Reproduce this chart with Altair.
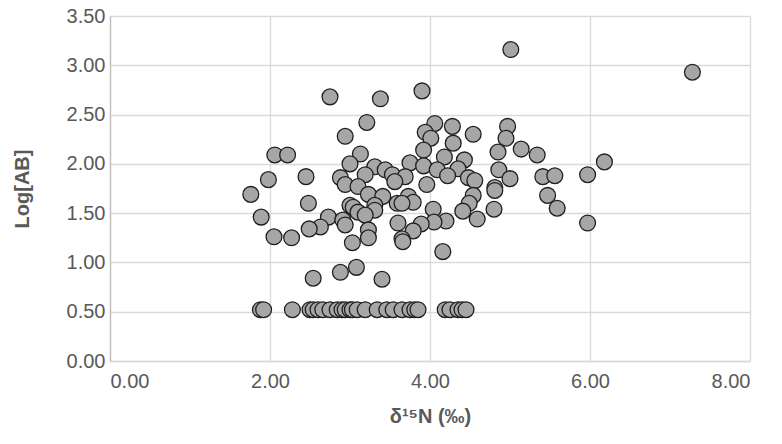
import altair as alt
import pandas as pd

x_vals = [
    5.01, 7.28, 3.90, 2.75, 3.38, 4.06, 3.21, 4.28, 4.97, 3.94,
    4.01, 4.54, 4.95, 2.94, 4.29, 3.92, 4.85, 5.14, 5.34, 2.06,
    2.22, 3.13, 4.18, 4.43, 6.18, 3.00, 3.75, 3.92, 3.31, 3.44,
    4.09, 4.35, 4.86, 1.98, 2.45, 2.88, 3.19, 3.53, 3.69, 4.22,
    4.48, 4.56, 5.00, 5.41, 5.56, 5.97, 2.94, 3.10, 3.56, 3.96,
    4.81, 4.81, 1.76, 3.23, 3.41, 3.73, 4.54, 5.47, 2.48, 3.00,
    3.31, 3.59, 3.79, 3.65, 4.49, 3.04, 5.59, 4.04, 4.41, 4.80,
    3.31, 3.10, 3.19, 2.73, 2.91, 1.89, 4.59, 4.20, 4.05, 3.89,
    3.60, 5.97, 2.94, 2.63, 2.49, 3.23, 3.79, 2.05, 2.27, 3.23,
    3.65, 3.66, 3.03, 4.16, 2.54, 2.88, 3.08, 3.40,
    1.88, 1.92, 2.28, 2.50, 2.54, 2.60, 2.66, 2.75, 2.84, 2.90,
    2.94, 3.00, 3.03, 3.09, 3.19, 3.34, 3.46, 3.54, 3.65, 3.75,
    3.81, 3.85, 4.19, 4.25, 4.35, 4.40, 4.45,
]
y_vals = [
    3.16, 2.93, 2.74, 2.68, 2.66, 2.41, 2.42, 2.38, 2.38, 2.32,
    2.26, 2.30, 2.26, 2.28, 2.21, 2.14, 2.12, 2.15, 2.09, 2.09,
    2.09, 2.10, 2.07, 2.04, 2.02, 2.00, 2.01, 1.98, 1.97, 1.94,
    1.94, 1.95, 1.94, 1.84, 1.87, 1.86, 1.89, 1.89, 1.87, 1.88,
    1.86, 1.83, 1.85, 1.87, 1.88, 1.89, 1.79, 1.77, 1.82, 1.79,
    1.76, 1.73, 1.69, 1.69, 1.67, 1.67, 1.68, 1.68, 1.60, 1.58,
    1.58, 1.60, 1.61, 1.60, 1.60, 1.56, 1.55, 1.54, 1.52, 1.54,
    1.53, 1.51, 1.48, 1.46, 1.43, 1.46, 1.44, 1.42, 1.41, 1.39,
    1.40, 1.40, 1.38, 1.36, 1.34, 1.33, 1.32, 1.26, 1.25, 1.25,
    1.24, 1.21, 1.20, 1.11, 0.84, 0.90, 0.95, 0.83,
    0.52, 0.52, 0.52, 0.52, 0.52, 0.52, 0.52, 0.52, 0.52, 0.52,
    0.52, 0.52, 0.52, 0.52, 0.52, 0.52, 0.52, 0.52, 0.52, 0.52,
    0.52, 0.52, 0.52, 0.52, 0.52, 0.52, 0.52,
]
x_ticks = [0, 2, 4, 6, 8]
y_ticks = [0, 0.5, 1.0, 1.5, 2.0, 2.5, 3.0, 3.5]

df = pd.DataFrame({"x": x_vals, "y": y_vals})

text_color = "#595959"
grid_color = "#d9d9d9"

chart = alt.Chart(df).mark_circle(
    size=250, color="#a6a6a6", opacity=1, stroke="#1f1f1f", strokeWidth=1.3
).encode(
    x=alt.X("x:Q", scale=alt.Scale(domain=[0, 8], nice=False, zero=False),
            axis=alt.Axis(values=x_ticks, format=".2f", title="δ¹⁵N (‰)",
                          grid=True, gridColor=grid_color, ticks=False,
                          domainColor=grid_color, labelPadding=10,
                          titlePadding=15)),
    y=alt.Y("y:Q", scale=alt.Scale(domain=[0, 3.5], nice=False),
            axis=alt.Axis(values=y_ticks, format=".2f", title="Log[AB]",
                          grid=True, gridColor=grid_color, ticks=False,
                          domainColor="#bfbfbf", labelPadding=5,
                          titlePadding=34)),
).properties(
    width=640, height=345,
    autosize=alt.AutoSizeParams(type="none"),
    padding={"left": 110, "top": 16, "right": 32, "bottom": 83},
    background="white",
).configure_axis(
    labelFont="Liberation Sans", labelFontSize=20, labelColor=text_color,
    titleFont="Liberation Sans", titleFontSize=20, titleColor=text_color,
    titleFontWeight="bold", gridWidth=1.3, domainWidth=1.3,
).configure_view(stroke=None)

chart.save("out.html", embed_options={"renderer": "svg", "actions": False})
